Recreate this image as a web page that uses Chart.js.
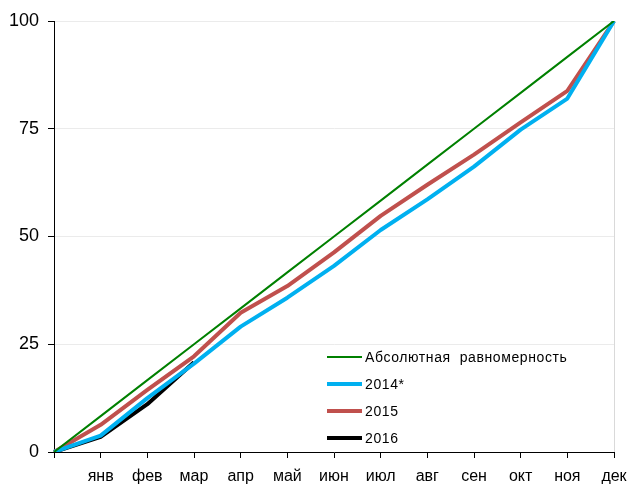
<!DOCTYPE html>
<html>
<head>
<meta charset="utf-8">
<script src="https://cdn.jsdelivr.net/npm/chart.js@4.4.1/dist/chart.umd.min.js"></script>
<style>
html,body{margin:0;padding:0;background:#fff;}
#wrap{width:631px;height:484px;}
</style>
</head>
<body>
<div id="wrap"><canvas id="c" width="631" height="484"></canvas></div>
<script>
const categories = ["", "янв", "фев", "мар", "апр", "май", "июн", "июл", "авг", "сен", "окт", "ноя", "дек"];
const uniform = [0, 8.33, 16.67, 25, 33.33, 41.67, 50, 58.33, 66.67, 75, 83.33, 91.67, 100];
const s2014 = [0, 3.8, 12.5, 20.5, 29.1, 35.8, 43.2, 51.5, 58.6, 66.2, 74.8, 82.0, 100];
const s2015 = [0, 6.3, 14.4, 22.2, 32.3, 38.5, 46.3, 54.8, 62.0, 69.0, 76.5, 83.8, 100];
const s2016 = [0, 3.5, 11.1, 20.8];
const seriesNames = ["Абсолютная  равномерность", "2014*", "2015", "2016"];
const yTicks = [0, 25, 50, 75, 100];

const FONT = "'Liberation Sans', Arial, sans-serif";

const insideLegend = {
  id: 'insideLegend',
  afterDatasetsDraw(chart) {
    const ctx = chart.ctx;
    const ca = chart.chartArea;
    const x0 = ca.left + 273;
    const y0 = ca.bottom - 95;
    const step = 27;
    ctx.save();
    ctx.font = "14px " + FONT;
    try { ctx.letterSpacing = '0.6px'; } catch (e) {}
    ctx.textBaseline = 'middle';
    ctx.textAlign = 'left';
    chart.data.datasets.forEach((ds, i) => {
      const y = y0 + i * step;
      ctx.strokeStyle = ds.borderColor;
      ctx.lineWidth = ds.borderWidth;
      ctx.beginPath();
      ctx.moveTo(x0, y);
      ctx.lineTo(x0 + 35, y);
      ctx.stroke();
      ctx.fillStyle = '#000';
      ctx.fillText(ds.label, x0 + 38, y + 1);
    });
    ctx.restore();
  }
};

new Chart(document.getElementById('c'), {
  type: 'line',
  data: {
    labels: categories,
    datasets: [
      { label: seriesNames[0], data: uniform, borderColor: '#008000', borderWidth: 2 },
      { label: seriesNames[1], data: s2014, borderColor: '#00B0F0', borderWidth: 4 },
      { label: seriesNames[2], data: s2015, borderColor: '#C0504D', borderWidth: 4 },
      { label: seriesNames[3], data: s2016, borderColor: '#000000', borderWidth: 4 }
    ]
  },
  options: {
    responsive: false,
    animation: false,
    devicePixelRatio: 1,
    layout: { padding: { top: 21, right: 17, left: 0, bottom: 0 } },
    elements: { point: { radius: 0 }, line: { tension: 0, borderCapStyle: 'butt', borderJoinStyle: 'round' } },
    plugins: { legend: { display: false }, tooltip: { enabled: false } },
    scales: {
      x: {
        offset: false,
        border: { display: true, color: '#000', width: 1 },
        grid: {
          display: true,
          drawOnChartArea: true,
          color: (c) => c.index === categories.length - 1 ? '#d9d9d9' : 'rgba(0,0,0,0)',
          tickColor: '#000',
          tickLength: 6
        },
        ticks: {
          color: '#000',
          font: { family: FONT, size: 16 },
          maxRotation: 0,
          autoSkip: false,
          padding: 9
        },
        afterFit(s) { s.height = 32; s.paddingLeft = 0; s.paddingRight = 0; }
      },
      y: {
        min: 0, max: 100,
        border: { display: true, color: '#000', width: 1 },
        afterBuildTicks(s) { s.ticks = yTicks.map(v => ({ value: v })); },
        grid: {
          color: (c) => c.tick && c.tick.value === 0 ? 'rgba(0,0,0,0)' : '#ebebeb',
          tickColor: '#000',
          tickLength: 6
        },
        ticks: {
          color: '#000',
          font: { family: FONT, size: 18 },
          padding: 9
        },
        afterFit(s) { s.width = 54; s.paddingTop = 0; s.paddingBottom = 0; }
      }
    }
  },
  plugins: [insideLegend]
});
</script>
</body>
</html>
